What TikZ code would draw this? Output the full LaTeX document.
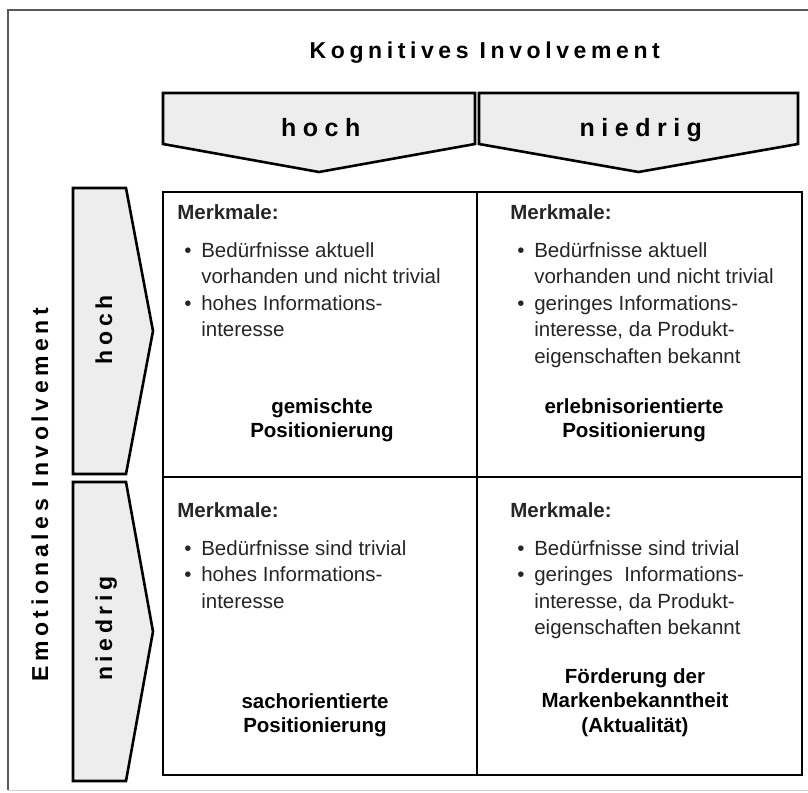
\documentclass[tikz,border=0pt]{standalone}
\usepackage{fontspec}
\setmainfont{Liberation Sans}
\newfontfamily\titelfont{Liberation Sans}[LetterSpace=20]
\newfontfamily\kopffont{Liberation Sans}[LetterSpace=26]
\newcommand{\pkt}{\hspace*{7pt}\makebox[17pt][l]{\textbullet}}
\newcommand{\ein}{\hspace*{24pt}}

\begin{document}
\begin{tikzpicture}[x=1pt, y=-1pt, line width=2.6pt, line join=miter,
  pfeil/.style={draw=black, fill=black!7},
  titel/.style={inner sep=0pt, anchor=base, font=\fontsize{23}{23}\selectfont\titelfont\bfseries},
  kopf/.style={inner sep=0pt, anchor=base, font=\fontsize{25}{25}\selectfont\kopffont\bfseries},
  seite/.style={titel, rotate=90},
  feld/.style={inner sep=0pt, anchor=base west, text=black!85, font=\fontsize{20.5}{26.5}\selectfont},
  fazit/.style={inner sep=0pt, anchor=base, font=\fontsize{20.5}{24.5}\selectfont\bfseries}]
  \useasboundingbox (0,0) rectangle (808,792);
  % rahmen
  \draw[line width=1.5pt, black!65] (808,10) -- (8,10) -- (8,790);
  \draw[line width=1pt, black!18] (8,790) -- (808,790);
  % kognitives involvement
  \node[titel] (kog) at (484.8,59) {Kognitives Involvement};
  \foreach \l/\r in {163/475, 479/798}
    \draw[pfeil] (\l,93) -- (\r,93) -- (\r,144) -- ({(\l+\r)/2},172) -- (\l,144) -- cycle;
  \node[kopf] (kog-hoch) at (320.8,136) {hoch};
  \node[kopf] (kog-niedrig) at (640.8,136) {niedrig};
  % emotionales involvement
  \node[seite] (emo) at (48,494.7) {Emotionales Involvement};
  \foreach \o/\u in {188/474, 482/781}
    \draw[pfeil] (73,\o) -- (126,\o) -- (153,{(\o+\u)/2}) -- (126,\u) -- (73,\u) -- cycle;
  \node[seite] (emo-hoch) at (112,329.7) {hoch};
  \node[seite] (emo-niedrig) at (112,628.7) {niedrig};
  % matrix
  \draw (163,192) rectangle (802,775);
  \draw (477,192) -- (477,775);
  \draw (163,477) -- (802,477);
  % hoch / hoch
  \node[feld] (m-hh) at (176,219) {\parbox[t]{290pt}{\textbf{Merkmale:}\\[11.5pt]
    \pkt Bedürfnisse aktuell\\ \ein vorhanden und nicht trivial\\
    \pkt hohes Informations-\\ \ein interesse}};
  \node[fazit] (f-hh) at (322,413) {\parbox[t]{280pt}{\centering gemischte\\Positionierung}};
  % hoch / niedrig
  \node[feld] (m-hn) at (509,219) {\parbox[t]{290pt}{\textbf{Merkmale:}\\[11.5pt]
    \pkt Bedürfnisse aktuell\\ \ein vorhanden und nicht trivial\\
    \pkt geringes Informations-\\ \ein interesse, da Produkt-\\ \ein eigenschaften bekannt}};
  \node[fazit] (f-hn) at (634,413) {\parbox[t]{280pt}{\centering erlebnisorientierte\\Positionierung}};
  % niedrig / hoch
  \node[feld] (m-nh) at (176,517) {\parbox[t]{290pt}{\textbf{Merkmale:}\\[11.5pt]
    \pkt Bedürfnisse sind trivial\\
    \pkt hohes Informations-\\ \ein interesse}};
  \node[fazit] (f-nh) at (315,708) {\parbox[t]{280pt}{\centering sachorientierte\\Positionierung}};
  % niedrig / niedrig
  \node[feld] (m-nn) at (509,517) {\parbox[t]{290pt}{\textbf{Merkmale:}\\[11.5pt]
    \pkt Bedürfnisse sind trivial\\
    \pkt geringes~ Informations-\\ \ein interesse, da Produkt-\\ \ein eigenschaften bekannt}};
  \node[fazit] (f-nn) at (635,683) {\parbox[t]{280pt}{\centering Förderung der\\Markenbekanntheit\\(Aktualität)}};
\end{tikzpicture}
\end{document}
